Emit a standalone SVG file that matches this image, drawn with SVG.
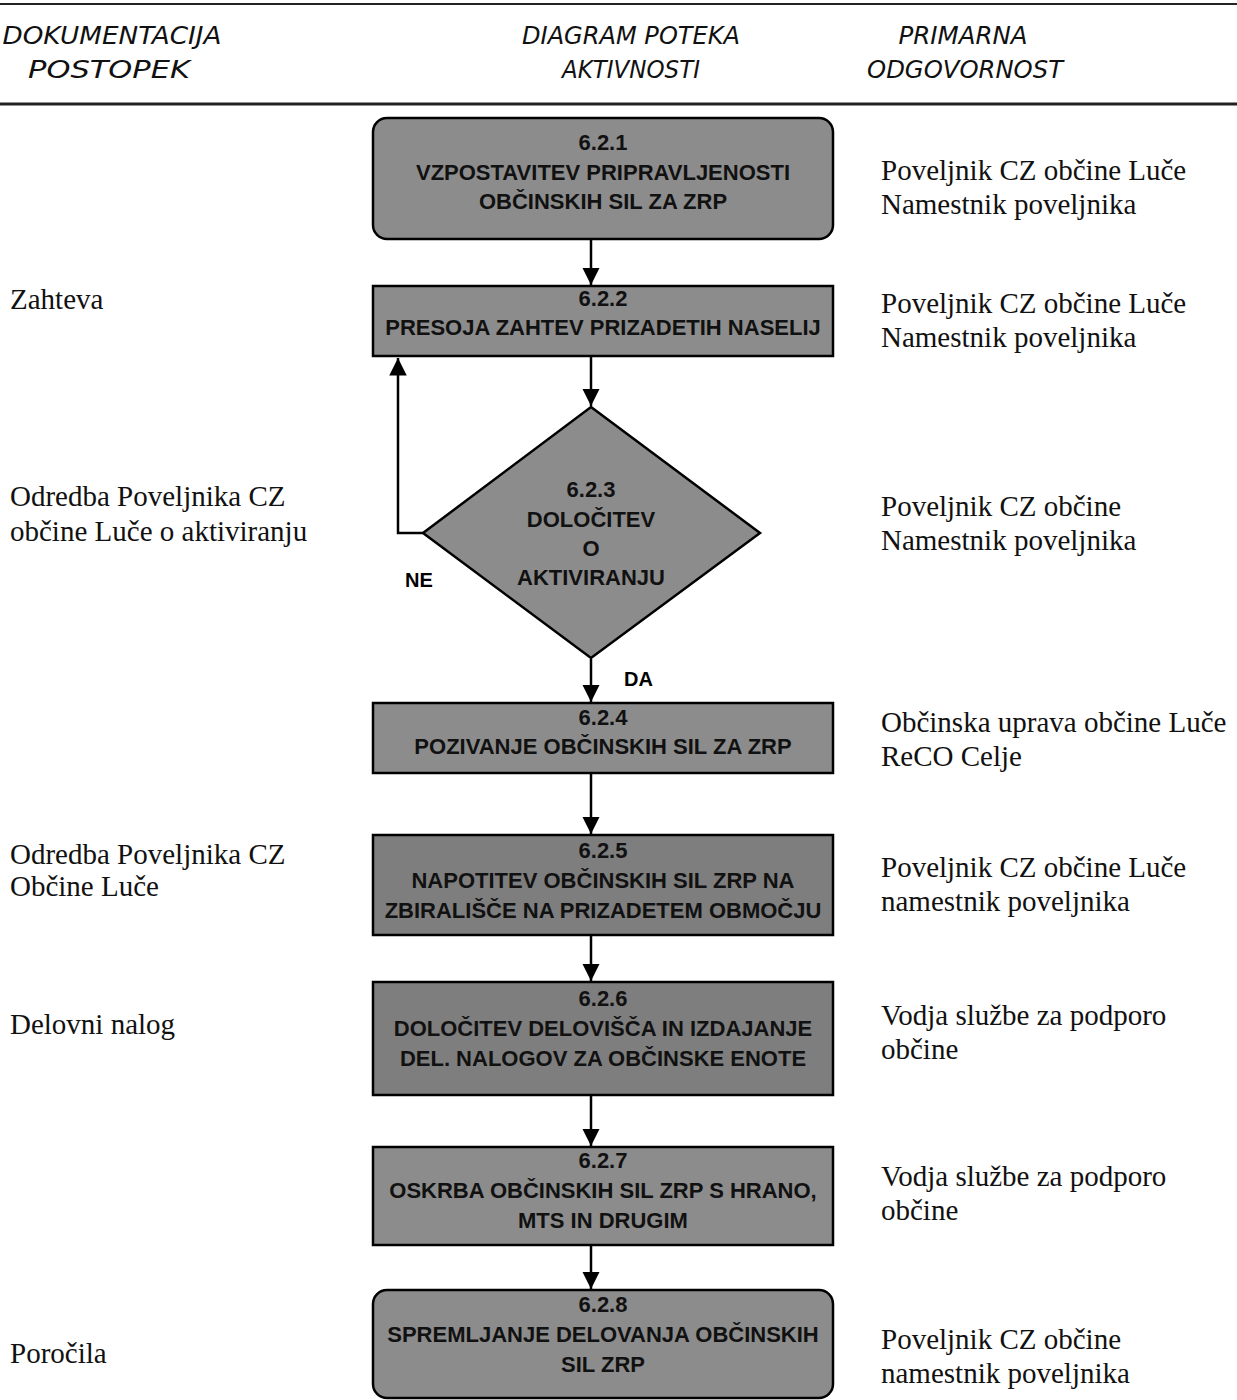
<svg xmlns="http://www.w3.org/2000/svg" width="1237" height="1400" viewBox="0 0 1237 1400">
<defs>
<style>
.hdr{font-family:"DejaVu Sans",Verdana,sans-serif;font-style:italic;font-size:25px;fill:#111;text-anchor:middle}
.doc{font-family:"Liberation Serif","Times New Roman",serif;font-size:29px;fill:#111}
.box{fill:#8c8c8c;stroke:#000;stroke-width:2.5}
.dark{fill:#7e7e7e}
.bt{font-family:"Liberation Sans",Arial,sans-serif;font-weight:bold;font-size:22px;fill:#111;text-anchor:middle}
.lbl{font-family:"Liberation Sans",Arial,sans-serif;font-weight:bold;font-size:20px;fill:#000}
.conn{fill:none;stroke:#000;stroke-width:2.5}
</style>
<marker id="arr" viewBox="0 0 10 10" refX="10" refY="5" markerWidth="7" markerHeight="7" markerUnits="strokeWidth" orient="auto">
<path d="M0,0 L10,5 L0,10 z" fill="#000"/>
</marker>
</defs>
<rect width="1237" height="1400" fill="#fff"/>

<g id="header">
<line x1="0" y1="4" x2="1237" y2="4" stroke="#222" stroke-width="2"/>
<line x1="0" y1="104" x2="1237" y2="104" stroke="#222" stroke-width="3"/>
<text class="hdr" x="112" y="44" textLength="219" lengthAdjust="spacingAndGlyphs">DOKUMENTACIJA</text>
<text class="hdr" x="109" y="78" textLength="162" lengthAdjust="spacingAndGlyphs">POSTOPEK</text>
<text class="hdr" x="631" y="44" textLength="218" lengthAdjust="spacingAndGlyphs">DIAGRAM POTEKA</text>
<text class="hdr" x="631" y="78" textLength="138" lengthAdjust="spacingAndGlyphs">AKTIVNOSTI</text>
<text class="hdr" x="963" y="44" textLength="129" lengthAdjust="spacingAndGlyphs">PRIMARNA</text>
<text class="hdr" x="965" y="78" textLength="196" lengthAdjust="spacingAndGlyphs">ODGOVORNOST</text>
</g>

<g id="connectors">
<line class="conn" x1="591" y1="240" x2="591" y2="285" marker-end="url(#arr)"/>
<line class="conn" x1="591" y1="357" x2="591" y2="406" marker-end="url(#arr)"/>
<polyline class="conn" points="423,533 398,533 398,358" marker-end="url(#arr)"/>
<line class="conn" x1="591" y1="659" x2="591" y2="702" marker-end="url(#arr)"/>
<line class="conn" x1="591" y1="774" x2="591" y2="834" marker-end="url(#arr)"/>
<line class="conn" x1="591" y1="936" x2="591" y2="981" marker-end="url(#arr)"/>
<line class="conn" x1="591" y1="1096" x2="591" y2="1146" marker-end="url(#arr)"/>
<line class="conn" x1="591" y1="1246" x2="591" y2="1289" marker-end="url(#arr)"/>
<text class="lbl" x="405" y="587">NE</text>
<text class="lbl" x="624" y="686">DA</text>
</g>

<g id="n621">
<rect class="box" x="373" y="118" width="460" height="121" rx="14"/>
<text class="bt" x="603" y="150">6.2.1</text>
<text class="bt" x="603" y="180">VZPOSTAVITEV PRIPRAVLJENOSTI</text>
<text class="bt" x="603" y="209">OBČINSKIH SIL ZA ZRP</text>
</g>

<g id="n622">
<rect class="box" x="373" y="286" width="460" height="70"/>
<text class="bt" x="603" y="306">6.2.2</text>
<text class="bt" x="603" y="335">PRESOJA ZAHTEV PRIZADETIH NASELIJ</text>
</g>

<g id="n623">
<polygon class="box" points="591,407 760,533 591,658 423,533"/>
<text class="bt" x="591" y="497">6.2.3</text>
<text class="bt" x="591" y="527">DOLOČITEV</text>
<text class="bt" x="591" y="556">O</text>
<text class="bt" x="591" y="585">AKTIVIRANJU</text>
</g>

<g id="n624">
<rect class="box" x="373" y="703" width="460" height="70"/>
<text class="bt" x="603" y="725">6.2.4</text>
<text class="bt" x="603" y="754">POZIVANJE OBČINSKIH SIL ZA ZRP</text>
</g>

<g id="n625">
<rect class="box dark" x="373" y="835" width="460" height="100"/>
<text class="bt" x="603" y="858">6.2.5</text>
<text class="bt" x="603" y="888">NAPOTITEV OBČINSKIH SIL ZRP NA</text>
<text class="bt" x="603" y="918">ZBIRALIŠČE NA PRIZADETEM OBMOČJU</text>
</g>

<g id="n626">
<rect class="box dark" x="373" y="982" width="460" height="113"/>
<text class="bt" x="603" y="1006">6.2.6</text>
<text class="bt" x="603" y="1036">DOLOČITEV DELOVIŠČA IN IZDAJANJE</text>
<text class="bt" x="603" y="1066">DEL. NALOGOV ZA OBČINSKE ENOTE</text>
</g>

<g id="n627">
<rect class="box" x="373" y="1147" width="460" height="98"/>
<text class="bt" x="603" y="1168">6.2.7</text>
<text class="bt" x="603" y="1198">OSKRBA OBČINSKIH SIL ZRP S HRANO,</text>
<text class="bt" x="603" y="1228">MTS IN DRUGIM</text>
</g>

<g id="n628">
<rect class="box" x="373" y="1290" width="460" height="108" rx="14"/>
<text class="bt" x="603" y="1312">6.2.8</text>
<text class="bt" x="603" y="1342">SPREMLJANJE DELOVANJA OBČINSKIH</text>
<text class="bt" x="603" y="1372">SIL ZRP</text>
</g>

<g id="documents">
<text class="doc" x="10" y="309">Zahteva</text>
<text class="doc" x="10" y="506">Odredba Poveljnika CZ</text>
<text class="doc" x="10" y="541">občine Luče o aktiviranju</text>
<text class="doc" x="10" y="864">Odredba Poveljnika CZ</text>
<text class="doc" x="10" y="896">Občine Luče</text>
<text class="doc" x="10" y="1034">Delovni nalog</text>
<text class="doc" x="10" y="1363">Poročila</text>
</g>

<g id="responsibility">
<text class="doc" x="881" y="180">Poveljnik CZ občine Luče</text>
<text class="doc" x="881" y="214">Namestnik poveljnika</text>
<text class="doc" x="881" y="313">Poveljnik CZ občine Luče</text>
<text class="doc" x="881" y="347">Namestnik poveljnika</text>
<text class="doc" x="881" y="516">Poveljnik CZ občine</text>
<text class="doc" x="881" y="550">Namestnik poveljnika</text>
<text class="doc" x="881" y="732">Občinska uprava občine Luče</text>
<text class="doc" x="881" y="766">ReCO Celje</text>
<text class="doc" x="881" y="877">Poveljnik CZ občine Luče</text>
<text class="doc" x="881" y="911">namestnik poveljnika</text>
<text class="doc" x="881" y="1025">Vodja službe za podporo</text>
<text class="doc" x="881" y="1059">občine</text>
<text class="doc" x="881" y="1186">Vodja  službe za podporo</text>
<text class="doc" x="881" y="1220">občine</text>
<text class="doc" x="881" y="1349">Poveljnik CZ občine</text>
<text class="doc" x="881" y="1383">namestnik poveljnika</text>
</g>
</svg>
